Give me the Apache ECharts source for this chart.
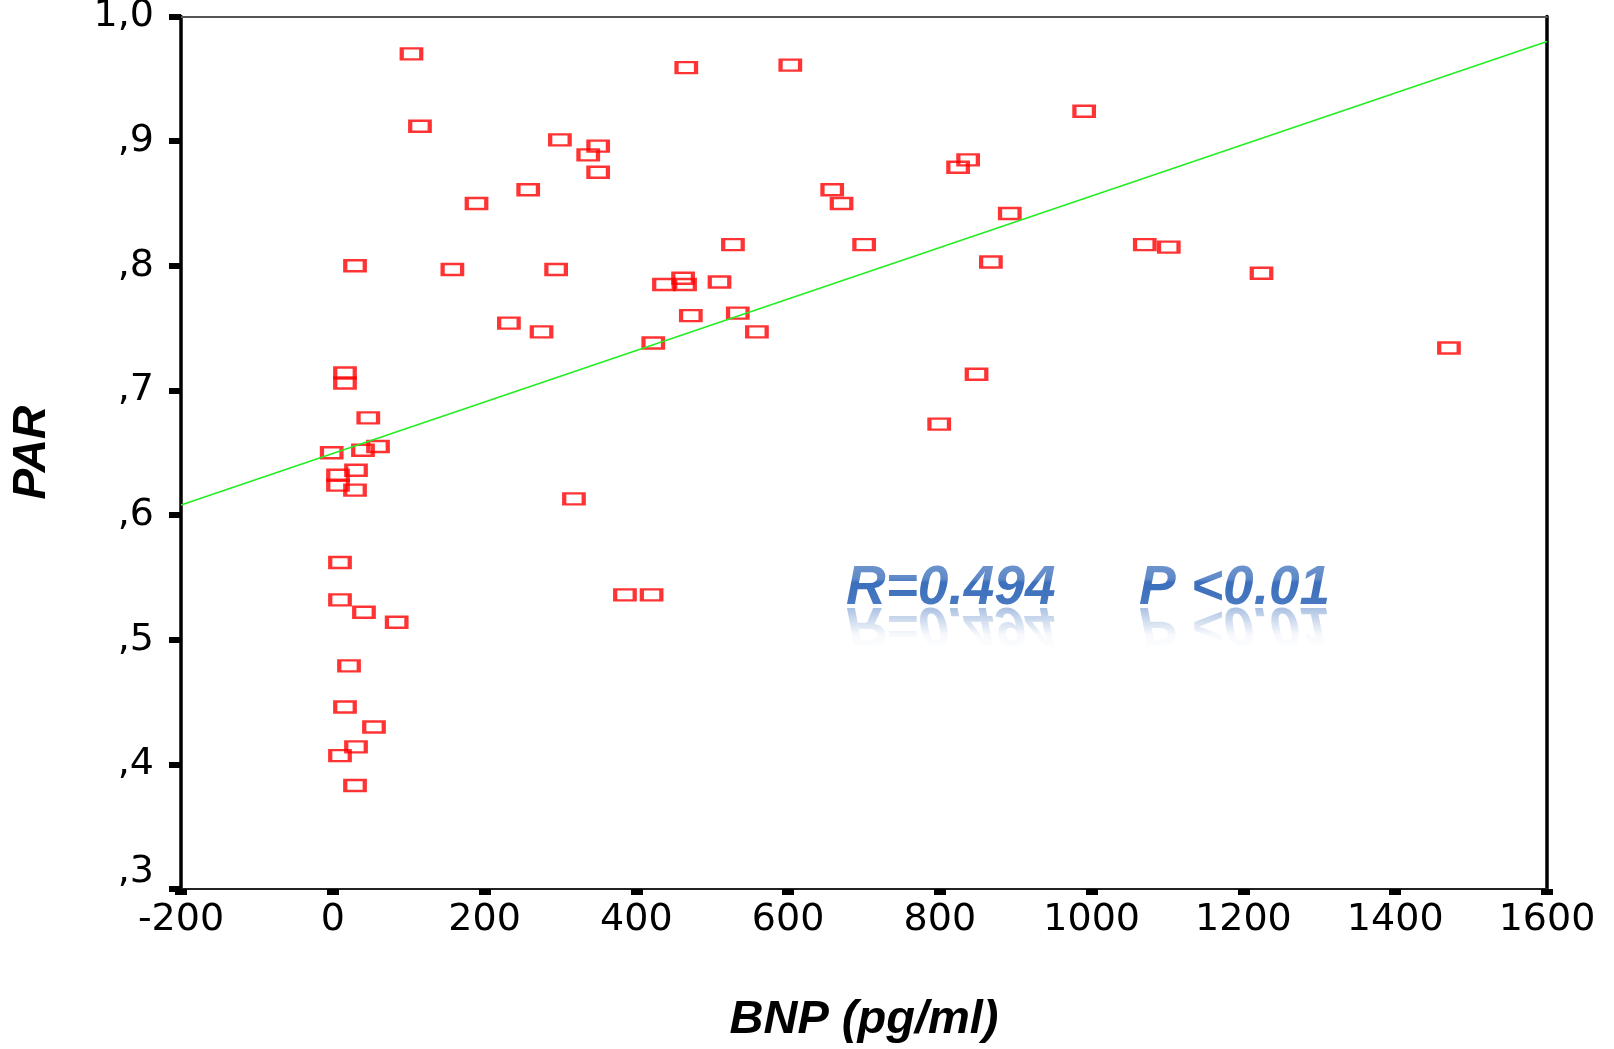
<!DOCTYPE html>
<html>
<head>
<meta charset="utf-8">
<script src="https://cdn.jsdelivr.net/npm/echarts@6/dist/echarts.min.js"></script>
<style>
html,body{margin:0;padding:0;background:#fff;}
#chart{width:1614px;height:1049px;}
</style>
</head>
<body>
<div id="chart"></div>
<script>
// ---- data ----
const bnpValues = [
  103.7, 114.9, 465.8, 602.9, 299.3, 349.7, 336.6, 349.7, 257.5, 189.4,
  29.3, 157.6, 294.3, 232.1, 275.1, 422.3, 436.4, 461.6, 464.2, 509.6,
  471.8, 533.7, 558.9, 527.3, 658.1, 670.4, 700.2, 824.0, 837.2, 892.1,
  867.2, 990.1, 1070.0, 1101.6, 1223.8, 1470.8, 799.1, 848.3, 317.8, 385.0,
  420.1,
  16.1, 16.1, 46.8, -1.4, 39.8, 59.6, 30.6, 6.9, 6.9, 29.3,
  9.5, 9.5, 41.1, 84.2, 21.4, 16.1, 54.3, 30.6, 9.5, 29.3
];
const parValues = [
  0.970, 0.912, 0.959, 0.961, 0.901, 0.896, 0.889, 0.875, 0.861, 0.850,
  0.800, 0.797, 0.797, 0.754, 0.747, 0.738, 0.785, 0.790, 0.785, 0.787,
  0.760, 0.762, 0.747, 0.817, 0.861, 0.850, 0.817, 0.879, 0.885, 0.842,
  0.803, 0.924, 0.817, 0.815, 0.794, 0.734, 0.673, 0.713, 0.613, 0.536,
  0.536,
  0.714, 0.706, 0.678, 0.650, 0.652, 0.655, 0.636, 0.632, 0.624, 0.620,
  0.562, 0.532, 0.522, 0.514, 0.479, 0.446, 0.430, 0.414, 0.407, 0.383
];
const fitLineX = [-200, 1600];
const fitLineY = [0.608, 0.980];
const xTickValues = [-200, 0, 200, 400, 600, 800, 1000, 1200, 1400, 1600];
const yTickLabels = [',3', ',4', ',5', ',6', ',7', ',8', ',9', '1,0'];
const xTitle = 'BNP (pg/ml)';
const yTitle = 'PAR';
const statR = 'R=0.494';
const statP = 'P <0.01';

// ---- build chart ----
const points = bnpValues.map((x, i) => [x, parValues[i]]);
const fitLine = fitLineX.map((x, i) => [x, fitLineY[i]]);

const chart = echarts.init(document.getElementById('chart'), null, {renderer: 'canvas'});

const tickFont = '"DejaVu Sans", sans-serif';
const titleFont = '"Liberation Sans", Arial, sans-serif';
const tickSize = 38;

const annSize = 55;
const annFont = 'italic bold ' + annSize + 'px "Liberation Sans", Arial, sans-serif';
const annColor = '#3b6fbc';
const annBottom = 616;      // bottom of main text box
const mirrorY = 596;        // reflection element origin

const whiteGradMain = new echarts.graphic.LinearGradient(0, 0, 0, 1, [
  {offset: 0, color: 'rgba(255,255,255,0.3)'},
  {offset: 0.45, color: 'rgba(255,255,255,0.18)'},
  {offset: 0.52, color: 'rgba(255,255,255,0)'},
  {offset: 1, color: 'rgba(255,255,255,0.08)'}
]);
const whiteGradRefl = new echarts.graphic.LinearGradient(0, 0, 0, 1, [
  {offset: 0, color: 'rgba(255,255,255,0.55)'},
  {offset: 0.6, color: 'rgba(255,255,255,0.96)'},
  {offset: 1, color: 'rgba(255,255,255,1)'}
]);

const option = {
  backgroundColor: '#ffffff',
  animation: false,
  grid: {left: 181, right: 67, top: 16.5, bottom: 160, containLabel: false, outerBoundsMode: 'none'},
  xAxis: [
    {
      type: 'value', min: -200, max: 1600, interval: 200,
      position: 'bottom',
      axisLine: {show: true, onZero: false, lineStyle: {color: '#222', width: 2}},
      axisTick: {show: true, inside: false, length: 6, lineStyle: {color: '#000', width: 12}},
      axisLabel: {
        show: true, margin: 12, color: '#000',
        fontFamily: tickFont, fontSize: tickSize,
        formatter: v => xTickValues.includes(v) ? String(v) : ''
      },
      splitLine: {show: false},
      name: xTitle, nameLocation: 'middle', nameGap: 108,
      nameTextStyle: {fontFamily: titleFont, fontSize: 47, fontWeight: 'bold', fontStyle: 'italic', color: '#000'}
    },
    {
      type: 'value', min: -200, max: 1600, interval: 200,
      position: 'top',
      axisLine: {show: true, onZero: false, lineStyle: {color: '#555', width: 2}},
      axisTick: {show: false}, axisLabel: {show: false}, splitLine: {show: false}
    }
  ],
  yAxis: [
    {
      type: 'value', min: 0.3, max: 1.0, interval: 0.1,
      position: 'left',
      axisLine: {show: true, onZero: false, lineStyle: {color: '#000', width: 3.5}},
      axisTick: {show: true, inside: false, length: 12, lineStyle: {color: '#000', width: 6}},
      axisLabel: {
        show: true, margin: 27, color: '#000',
        fontFamily: tickFont, fontSize: tickSize,
        formatter: v => {
          const idx = Math.round((v - 0.3) / 0.1);
          const s = yTickLabels[idx] || '';
          return idx === 0 ? '{low|' + s + '}' : s;
        },
        rich: {
          low: {fontFamily: tickFont, fontSize: tickSize, color: '#000', padding: [0, 0, 34, 0]}
        }
      },
      splitLine: {show: false},
      name: yTitle, nameLocation: 'middle', nameGap: 126,
      nameTextStyle: {fontFamily: titleFont, fontSize: 46, fontWeight: 'bold', fontStyle: 'italic', color: '#000'}
    },
    {
      type: 'value', min: 0.3, max: 1.0, interval: 0.1,
      position: 'right',
      axisLine: {show: true, onZero: false, lineStyle: {color: '#000', width: 3.5}},
      axisTick: {show: false}, axisLabel: {show: false}, splitLine: {show: false}
    }
  ],
  series: [
    {
      type: 'scatter',
      xAxisIndex: 0, yAxisIndex: 0,
      data: points,
      symbol: 'rect',
      symbolSize: [19.5, 11],
      itemStyle: {color: 'rgba(0,0,0,0)', borderColor: '#ff0000', borderWidth: 3.2},
      z: 3
    },
    {
      type: 'line',
      xAxisIndex: 0, yAxisIndex: 0,
      data: fitLine,
      symbol: 'none',
      lineStyle: {color: '#22ee22', width: 1.6},
      z: 4
    }
  ],
  graphic: [
    {type: 'text', x: 846, y: annBottom, z: 10,
     style: {text: statR, font: annFont, fill: annColor, verticalAlign: 'bottom', align: 'left'}},
    {type: 'text', x: 846, y: mirrorY, scaleY: -1, z: 10,
     style: {text: statR, font: annFont, fill: annColor, verticalAlign: 'bottom', align: 'left'}},
    {type: 'text', x: 1139, y: annBottom, z: 10,
     style: {text: statP, font: annFont, fill: annColor, verticalAlign: 'bottom', align: 'left'}},
    {type: 'text', x: 1139, y: mirrorY, scaleY: -1, z: 10,
     style: {text: statP, font: annFont, fill: annColor, verticalAlign: 'bottom', align: 'left'}},
    {type: 'rect', z: 11, silent: true,
     shape: {x: 835, y: 556, width: 510, height: 51},
     style: {fill: whiteGradMain}},
    {type: 'rect', z: 11, silent: true,
     shape: {x: 835, y: 606, width: 510, height: 48},
     style: {fill: whiteGradRefl}}
  ]
};
chart.setOption(option);
</script>
</body>
</html>
